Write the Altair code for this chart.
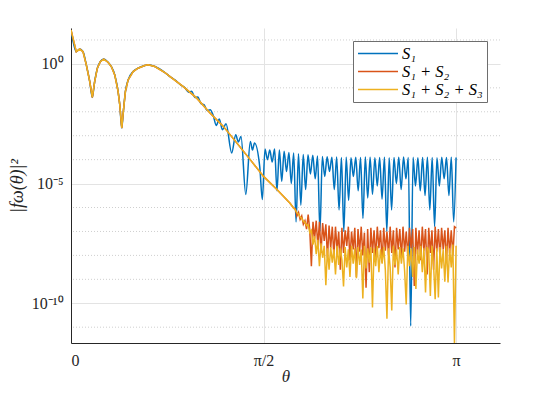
import altair as alt
import numpy as np
import pandas as pd

PI = float(np.pi)

# ---- data (theta in radians, value as log10 |f|^2) ----
common_theta = [0.0, 0.043, 0.071, 0.098, 0.125, 0.153, 0.174, 0.193, 0.215, 0.240,
                0.267, 0.302, 0.329, 0.357, 0.384, 0.398, 0.414, 0.427, 0.444, 0.466,
                0.507, 0.547, 0.602, 0.629, 0.684, 0.766, 0.808, 0.916, 1.026, 1.134,
                1.243, 1.352, 1.462, 1.571, 1.680, 1.787, 1.814]
common_log = [1.42, 0.51, 0.62, 0.51, -0.04, -0.74, -1.40, -0.74, -0.18, 0.10,
              0.20, 0.07, -0.11, -0.46, -1.15, -1.71, -2.68, -1.99, -1.15, -0.67,
              -0.32, -0.18, -0.07, -0.04, -0.11, -0.36, -0.53, -0.95, -1.43, -2.05,
              -2.61, -3.30, -4.00, -4.70, -5.25, -5.82, -6.01]

blue_trans_theta = [0.85, 0.89, 0.93, 0.96, 0.985, 1.01, 1.035, 1.06, 1.085, 1.11,
                    1.135, 1.16, 1.185, 1.21, 1.235, 1.265, 1.311, 1.344, 1.365, 1.387,
                    1.426, 1.463, 1.481, 1.497, 1.540, 1.561]
blue_trans_log = [-0.68, -0.86, -1.00, -1.18, -1.14, -1.40, -1.38, -1.66, -1.70, -1.95,
                  -1.92, -2.15, -2.57, -2.30, -2.75, -2.50, -3.72, -2.96, -3.26, -3.03,
                  -5.46, -3.24, -3.60, -3.30, -4.30, -5.67]

# blue plateau: alternating maxima / minima from theta = 1.583 to pi
blue_plateau_start = 1.583
blue_peak_log = [-3.55, -3.60, -3.55, -3.60, -3.65, -3.70, -3.72, -3.75, -3.78, -3.80,
                 -3.82, -3.85, -3.87, -3.88, -3.90, -3.89, -3.91, -3.90, -3.92, -3.90,
                 -3.91, -3.89, -3.90, -3.92, -3.91, -3.90, -3.92, -3.91, -3.90, -3.89,
                 -3.91, -3.90, -3.92, -3.91, -3.90, -3.91, -3.92, -3.90, -3.91, -3.90,
                 -3.91]
blue_trough_log = [-4.0, -4.1, -5.3, -4.9, -4.5, -5.0, -6.6, -5.9, -5.25, -4.6,
                   -4.8, -7.0, -4.7, -4.5, -5.25, -6.1, -7.0, -5.7, -4.7, -5.3,
                   -6.45, -5.6, -5.45, -5.1, -5.65, -7.0, -6.1, -5.0, -5.25, -4.8,
                   -10.95, -5.1, -5.3, -5.5, -6.1, -6.8, -5.1, -4.8, -5.5, -6.6]

# red / yellow noisy tails from theta = 1.83 to pi
tail_start = 1.83
red_tail_log = [-6.05, -6.35, -6.20, -6.50, -6.35, -6.70, -6.55, -6.90, -6.30, -6.95,
                -8.45, -6.60, -7.30, -6.55, -7.60, -6.60, -7.90, -6.65, -7.40, -6.70,
                -8.10, -6.75, -7.70, -6.80, -8.00, -6.80, -7.80, -7.00, -8.60, -6.85,
                -7.90, -6.95, -7.60, -6.80, -8.20, -7.00, -7.75, -6.85, -8.90, -6.90,
                -7.85, -6.80, -8.00, -7.05, -9.35, -6.90, -8.70, -6.85, -7.90, -6.95,
                -8.10, -6.80, -7.70, -6.95, -8.30, -6.85, -7.80, -7.00, -8.00, -6.80,
                -7.90, -6.95, -8.50, -6.85, -7.75, -6.90, -8.10, -6.80, -7.85, -7.00,
                -8.05, -6.85, -7.70, -6.90, -9.28, -6.85, -7.95, -6.95, -8.20, -6.80,
                -7.80, -6.90, -8.80, -6.85, -7.90, -6.95, -8.60, -6.80, -7.85, -6.90,
                -8.10, -6.85, -7.75, -6.95, -8.30, -6.85, -7.90, -6.95, -8.00, -6.80,
                -6.85]
yellow_tail_log = [-6.10, -6.22, -6.28, -6.40, -6.45, -6.58, -6.62, -6.75, -6.72, -7.05,
                   -6.95, -7.55, -7.20, -7.95, -7.35, -8.45, -7.50, -8.10, -7.60, -9.25,
                   -7.70, -8.60, -7.65, -8.30, -7.75, -8.80, -7.60, -8.40, -7.70, -8.20,
                   -9.30, -7.65, -8.50, -7.75, -8.90, -7.60, -8.35, -7.70, -8.95, -7.65,
                   -8.40, -7.75, -9.80, -7.60, -8.55, -7.70, -8.30, -7.65, -10.18, -7.70,
                   -8.45, -7.60, -8.70, -7.75, -8.35, -7.65, -8.60, -10.65, -7.70, -8.50,
                   -10.30, -7.60, -8.40, -7.75, -8.80, -7.65, -8.35, -7.70, -8.65, -10.05,
                   -7.60, -8.45, -7.70, -8.90, -7.65, -9.40, -7.75, -8.35, -7.60, -8.70,
                   -7.70, -9.55, -7.65, -7.80, -9.70, -7.60, -8.40, -9.83, -7.70, -9.76,
                   -7.65, -8.55, -7.75, -9.10, -7.60, -9.13, -7.70, -8.50, -7.55, -11.70,
                   -7.60]

series_names = ["S₁", "S₁ + S₂", "S₁ + S₂ + S₃"]
series_colors = ["#0072BD", "#D95319", "#EDB120"]

x_tick_values = [0.0, PI / 2, PI]
y_major_values = [1.0, 1e-5, 1e-10]
y_minor_values = [1e1, 1e-1, 1e-2, 1e-3, 1e-4, 1e-6, 1e-7, 1e-8, 1e-9, 1e-11]

# ---- assemble tables ----
def frame(name, theta, logv):
    return pd.DataFrame({"series": name, "theta": np.asarray(theta, float),
                         "val": 10.0 ** np.asarray(logv, float)})

ct = np.array(common_theta)
cl = np.array(common_log)
keep = ct <= 0.81

plateau_theta = np.linspace(blue_plateau_start, PI, len(blue_peak_log) + len(blue_trough_log))
plateau_log = np.empty(len(plateau_theta))
plateau_log[0::2] = blue_peak_log
plateau_log[1::2] = blue_trough_log

tail_theta = np.linspace(tail_start, PI, len(red_tail_log))

blue_df = frame(series_names[0],
                np.concatenate([ct[keep], blue_trans_theta, plateau_theta]),
                np.concatenate([cl[keep], blue_trans_log, plateau_log]))
red_df = frame(series_names[1], np.concatenate([ct, tail_theta]),
               np.concatenate([cl, red_tail_log]))
yel_df = frame(series_names[2], np.concatenate([ct, tail_theta]),
               np.concatenate([cl, yellow_tail_log]))
minor_df = pd.DataFrame({"val": y_minor_values})

FONT = "Liberation Serif"
INK = "#262626"

x_scale = alt.Scale(domain=[0, 3.5], nice=False, zero=False)
y_scale = alt.Scale(type="log", domain=[10 ** -11.66, 10 ** 1.5], nice=False)

x_axis = alt.Axis(values=x_tick_values,
                  labelExpr="datum.value < 0.5 ? '0' : (datum.value < 2 ? 'π/2' : 'π')",
                  title="θ", titleFont=FONT, titleFontStyle="italic", titleFontSize=17,
                  titleFontWeight="normal", titleColor=INK,
                  labelFont=FONT, labelColor=INK, labelFontSize=16,
                  labelPadding=9, titlePadding=0,
                  grid=True, gridColor="#e3e3e3", ticks=False,
                  domainColor=INK, domainWidth=1)
y_axis = alt.Axis(values=y_major_values,
                  labelExpr="datum.value > 0.5 ? '10⁰' : (datum.value > 1e-7 ? '10⁻⁵' : '10⁻¹⁰')",
                  title="|fω(θ)|²", titleFont=FONT, titleFontStyle="italic", titleFontSize=18,
                  titleFontWeight="normal", titleColor=INK,
                  labelFont=FONT, labelColor=INK, labelFontSize=16,
                  labelPadding=8, titlePadding=5,
                  grid=True, gridColor="#e3e3e3", ticks=False,
                  domainColor=INK, domainWidth=1)

legend = alt.Legend(title=None, orient="none", legendX=282, legendY=13,
                    symbolType="stroke", symbolSize=1600, symbolStrokeWidth=1.5,
                    clipHeight=17, rowPadding=1, padding=4, labelOffset=3,
                    labelFont=FONT, labelFontSize=16.5, labelFontStyle="italic",
                    labelColor="#000000", strokeColor="#6e6e6e", fillColor="#ffffff")

col = alt.Color("series:N", scale=alt.Scale(domain=series_names, range=series_colors),
                legend=legend)
X = alt.X("theta:Q", scale=x_scale, axis=x_axis)
Y = alt.Y("val:Q", scale=y_scale, axis=y_axis)

minor_grid = alt.Chart(minor_df).mark_rule(color="#cfcfcf", strokeWidth=1,
                                           strokeDash=[1, 2]).encode(y=Y)

blue = alt.Chart(blue_df).mark_line(strokeWidth=1.5, clip=True,
                                    interpolate="monotone").encode(x=X, y=Y, color=col)
red = alt.Chart(red_df).mark_line(strokeWidth=1.5, clip=True).encode(x=X, y=Y, color=col)
yellow = alt.Chart(yel_df).mark_line(strokeWidth=1.5, clip=True).encode(x=X, y=Y, color=col)

chart = alt.layer(minor_grid, blue, red, yellow).properties(
    width=429, height=315,
    autosize=alt.AutoSizeParams(type="none"),
    padding={"left": 63, "top": 20, "right": 44, "bottom": 42},
    background="white",
).configure_view(stroke=None)

chart.save("out.html", embed_options={"renderer": "svg", "actions": False})
